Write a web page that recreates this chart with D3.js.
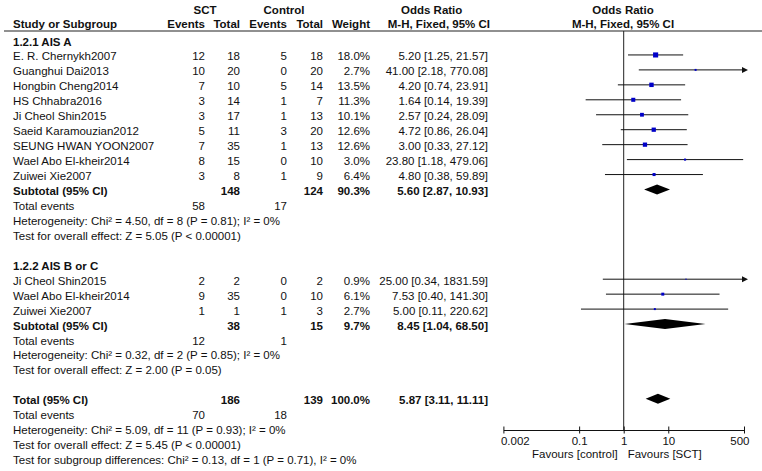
<!DOCTYPE html>
<html>
<head>
<meta charset="utf-8">
<script src="https://cdn.jsdelivr.net/npm/d3@7"></script>
<style>
  body { margin: 0; background: #fff; }
  svg { display: block; font-family: "Liberation Sans", Arial, sans-serif; font-size: 11.5px; }
  text { fill: #111; }
  .b { font-weight: bold; }
</style>
</head>
<body>
<div id="chart"></div>
<script>
const WIDTH = 762;
const HEIGHT = 471;

// study level data
const groupLabels = ['1.2.1 AIS A', '1.2.2 AIS B or C'];
const studyGroup = [0, 0, 0, 0, 0, 0, 0, 0, 0, 1, 1, 1];
const studyNames = [
  'E. R. Chernykh2007', 'Guanghui Dai2013', 'Hongbin Cheng2014', 'HS Chhabra2016',
  'Ji Cheol Shin2015', 'Saeid Karamouzian2012', 'SEUNG HWAN YOON2007',
  'Wael Abo El-kheir2014', 'Zuiwei Xie2007',
  'Ji Cheol Shin2015', 'Wael Abo El-kheir2014', 'Zuiwei Xie2007'
];
const sctEvents = [12, 10, 7, 3, 3, 5, 7, 8, 3, 2, 9, 1];
const sctTotal = [18, 20, 10, 14, 17, 11, 35, 15, 8, 2, 35, 1];
const ctrlEvents = [5, 0, 5, 1, 1, 3, 1, 0, 1, 0, 0, 1];
const ctrlTotal = [18, 20, 14, 7, 13, 20, 13, 10, 9, 2, 10, 3];
const weights = [18.0, 2.7, 13.5, 11.3, 10.1, 12.6, 12.6, 3.0, 6.4, 0.9, 6.1, 2.7];
const oddsRatios = [5.20, 41.00, 4.20, 1.64, 2.57, 4.72, 3.00, 23.80, 4.80, 25.00, 7.53, 5.00];
const ciLow = [1.25, 2.18, 0.74, 0.14, 0.24, 0.86, 0.33, 1.18, 0.38, 0.34, 0.40, 0.11];
const ciHigh = [21.57, 770.08, 23.91, 19.39, 28.09, 26.04, 27.12, 479.06, 59.89, 1831.59, 141.30, 220.62];

// subgroup summaries
const subSctEvents = [58, 12];
const subCtrlEvents = [17, 1];
const subSctTotal = [148, 38];
const subCtrlTotal = [124, 15];
const subWeight = [90.3, 9.7];
const subOR = [5.60, 8.45];
const subLow = [2.87, 1.04];
const subHigh = [10.93, 68.50];
const subHet = [
  'Heterogeneity: Chi\u00b2 = 4.50, df = 8 (P = 0.81); I\u00b2 = 0%',
  'Heterogeneity: Chi\u00b2 = 0.32, df = 2 (P = 0.85); I\u00b2 = 0%'
];
const subTest = [
  'Test for overall effect: Z = 5.05 (P < 0.00001)',
  'Test for overall effect: Z = 2.00 (P = 0.05)'
];

// overall
const totalCounts = [70, 186, 18, 139];   // sct events, sct total, ctrl events, ctrl total
const totalWeight = 100.0;
const totalOR = [5.87, 3.11, 11.11];
const totalNotes = [
  'Heterogeneity: Chi\u00b2 = 5.09, df = 11 (P = 0.93); I\u00b2 = 0%',
  'Test for overall effect: Z = 5.45 (P < 0.00001)',
  'Test for subgroup differences: Chi\u00b2 = 0.13, df = 1 (P = 0.71), I\u00b2 = 0%'
];

const axisTicks = [0.002, 0.1, 1, 10, 500];
const axisLabels = ['0.002', '0.1', '1', '10', '500'];
const favourLabels = ['Favours [control]', 'Favours [SCT]'];

// column positions (right edges unless noted)
const COL = { name: 13, sctE: 205, sctT: 240, ctlE: 287, ctlT: 323, wt: 370, ci: 488 };
const ROW0 = 41.5, ROWH = 14.95;
const rowY = i => ROW0 + i * ROWH;

const fmt2 = d3.format('.2f');
const ciText = (o, l, h) => `${fmt2(o)} [${fmt2(l)}, ${fmt2(h)}]`;

// build row list
const rows = [];
groupLabels.forEach((g, gi) => {
  rows.push({ type: 'group', label: g });
  studyNames.forEach((n, i) => {
    if (studyGroup[i] === gi) rows.push({ type: 'study', i });
  });
  rows.push({ type: 'subtotal', gi });
  rows.push({ type: 'events', a: subSctEvents[gi], b: subCtrlEvents[gi] });
  rows.push({ type: 'note', label: subHet[gi] });
  rows.push({ type: 'note', label: subTest[gi] });
  rows.push({ type: 'blank' });
});
rows.push({ type: 'total' });
rows.push({ type: 'events', a: totalCounts[0], b: totalCounts[2] });
totalNotes.forEach(t => rows.push({ type: 'note', label: t }));

const svg = d3.select('#chart').append('svg')
  .attr('width', WIDTH).attr('height', HEIGHT);

const x = d3.scaleLog().domain([0.002, 500]).range([503.4, 744]);
const axisY = 430;

function txt(xp, y, s, anchor, bold) {
  svg.append('text')
    .attr('x', xp).attr('y', y + 4)
    .attr('text-anchor', anchor || 'start')
    .attr('class', bold ? 'b' : null)
    .text(s);
}

// header
txt(205, 10, 'SCT', 'middle', true);
txt(284, 10, 'Control', 'middle', true);
txt(401, 10, 'Odds Ratio', 'start', true);
txt(623, 10, 'Odds Ratio', 'middle', true);
txt(COL.name, 24, 'Study or Subgroup', 'start', true);
txt(COL.sctE, 24, 'Events', 'end', true);
txt(COL.sctT, 24, 'Total', 'end', true);
txt(COL.ctlE, 24, 'Events', 'end', true);
txt(COL.ctlT, 24, 'Total', 'end', true);
txt(COL.wt, 24, 'Weight', 'end', true);
txt(COL.ci + 2, 24, 'M-H, Fixed, 95% CI', 'end', true);
txt(623, 24, 'M-H, Fixed, 95% CI', 'middle', true);

svg.append('line')
  .attr('x1', 4).attr('x2', WIDTH).attr('y1', 31).attr('y2', 31)
  .attr('stroke', '#222').attr('stroke-width', 1.2);

// line of no effect
svg.append('line')
  .attr('x1', x(1)).attr('x2', x(1)).attr('y1', 31).attr('y2', axisY)
  .attr('stroke', '#222').attr('stroke-width', 1);

const plot = svg.append('g');

function diamond(y, o, l, h) {
  const hh = 5;
  plot.append('path')
    .attr('d', `M${x(l)},${y}L${x(o)},${y - hh}L${x(h)},${y}L${x(o)},${y + hh}Z`)
    .attr('fill', '#000');
}

rows.forEach((r, k) => {
  const y = rowY(k);
  const my = y - 1.5;
  if (r.type === 'group') {
    txt(COL.name, y, r.label, 'start', true);
  } else if (r.type === 'study') {
    const i = r.i;
    txt(COL.name, y, studyNames[i]);
    txt(COL.sctE, y, sctEvents[i], 'end');
    txt(COL.sctT, y, sctTotal[i], 'end');
    txt(COL.ctlE, y, ctrlEvents[i], 'end');
    txt(COL.ctlT, y, ctrlTotal[i], 'end');
    txt(COL.wt, y, weights[i].toFixed(1) + '%', 'end');
    txt(COL.ci, y, ciText(oddsRatios[i], ciLow[i], ciHigh[i]), 'end');
    const hiClip = Math.min(ciHigh[i], 500);
    const x2 = ciHigh[i] > 500 ? x(500) + 1 : x(hiClip);
    plot.append('line')
      .attr('x1', x(Math.max(ciLow[i], 0.002))).attr('x2', x2)
      .attr('y1', my).attr('y2', my)
      .attr('stroke', '#111').attr('stroke-width', 1);
    if (ciHigh[i] > 500) {
      const t = x(500) + 4;
      plot.append('path')
        .attr('d', `M${t},${my}L${t - 6},${my - 3}L${t - 6},${my + 3}Z`)
        .attr('fill', '#111');
    }
    const s = Math.max(1.2, 1.2 * Math.sqrt(weights[i]));
    plot.append('rect')
      .attr('x', x(oddsRatios[i]) - s / 2).attr('y', my - s / 2)
      .attr('width', s).attr('height', s)
      .attr('fill', '#0000c8');
  } else if (r.type === 'subtotal') {
    const gi = r.gi;
    txt(COL.name, y, 'Subtotal (95% CI)', 'start', true);
    txt(COL.sctT, y, subSctTotal[gi], 'end', true);
    txt(COL.ctlT, y, subCtrlTotal[gi], 'end', true);
    txt(COL.wt, y, subWeight[gi].toFixed(1) + '%', 'end', true);
    txt(COL.ci, y, ciText(subOR[gi], subLow[gi], subHigh[gi]), 'end', true);
    diamond(my, subOR[gi], subLow[gi], subHigh[gi]);
  } else if (r.type === 'events') {
    txt(COL.name, y, 'Total events');
    txt(COL.sctE, y, r.a, 'end');
    txt(COL.ctlE, y, r.b, 'end');
  } else if (r.type === 'note') {
    txt(COL.name, y, r.label);
  } else if (r.type === 'total') {
    txt(COL.name, y, 'Total (95% CI)', 'start', true);
    txt(COL.sctT, y, totalCounts[1], 'end', true);
    txt(COL.ctlT, y, totalCounts[3], 'end', true);
    txt(COL.wt, y, totalWeight.toFixed(1) + '%', 'end', true);
    txt(COL.ci, y, ciText(totalOR[0], totalOR[1], totalOR[2]), 'end', true);
    diamond(my, totalOR[0], totalOR[1], totalOR[2]);
  }
});

// axis
const axis = d3.axisBottom(x)
  .tickValues(axisTicks)
  .tickFormat((d, i) => axisLabels[i])
  .tickSizeOuter(0)
  .tickSizeInner(3.5)
  .tickPadding(3);

const ax = svg.append('g')
  .attr('transform', `translate(0,${axisY})`)
  .call(axis);
ax.select('.domain').attr('stroke', '#111');
ax.selectAll('.tick line').attr('y1', -3.5).attr('y2', 3.5).attr('stroke', '#111');
ax.selectAll('.tick text')
  .attr('font-size', '11.5px')
  .attr('font-family', '"Liberation Sans", Arial, sans-serif')
  .attr('fill', '#111')
  .attr('text-anchor', (d, i) => i === 0 ? 'start' : i === axisTicks.length - 1 ? 'end' : 'middle')
  .attr('dx', (d, i) => i === 0 ? -3 : i === axisTicks.length - 1 ? 5 : 0);

txt(x(1) - 6, 454, favourLabels[0], 'end');
txt(x(1) + 4, 454, favourLabels[1], 'start');
</script>
</body>
</html>
